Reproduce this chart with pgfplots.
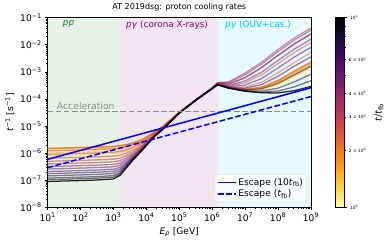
\documentclass[border=0pt]{standalone}
\usepackage{fontspec}
\setmainfont{DejaVu Sans}
\usepackage{pgfplots}
\usepackage{pgfplotstable}
\pgfplotsset{compat=1.18}
\pgfplotsset{colormap={infr}{rgb255=(252,255,164) rgb255=(246,215,70) rgb255=(252,165,10) rgb255=(243,120,25) rgb255=(221,81,58) rgb255=(188,55,84) rgb255=(147,38,103) rgb255=(106,23,110) rgb255=(66,10,104) rgb255=(22,11,57) rgb255=(0,0,4)}}
\definecolor{ppgreen}{RGB}{230,242,230}
\definecolor{pgpurple}{RGB}{242,230,242}
\definecolor{oucyan}{RGB}{230,249,255}
\definecolor{dsblue}{RGB}{0,191,255}
\definecolor{mplpurple}{RGB}{128,0,128}
\definecolor{mplgreen}{RGB}{0,128,0}
\definecolor{accgray}{RGB}{140,140,140}
\newcommand{\tp}[1]{10\textsuperscript{#1}}
\newcommand{\fs}[1]{\fontsize{#1}{#1}\selectfont}

\pgfplotstableread{
E c0 c1 c2 c3 c4 c5 c6 c7 c8 c9 c10 c11 c12 c13 c14 c15 c16 c17 c18 c19
1e1 4.3e-7 6.0e-7 8.0e-7 1.0e-6 1.25e-6 1.45e-6 1.5e-6 1.2e-6 9.0e-7 6.5e-7 5.0e-7 4.0e-7 3.2e-7 2.6e-7 2.1e-7 1.75e-7 1.45e-7 1.2e-7 1.05e-7 9.0e-8
3.162e1 4.47e-7 6.24e-7 8.32e-7 1.04e-6 1.30e-6 1.51e-6 1.56e-6 1.25e-6 9.36e-7 6.76e-7 5.2e-7 4.16e-7 3.33e-7 2.70e-7 2.18e-7 1.82e-7 1.51e-7 1.25e-7 1.09e-7 9.36e-8
1e2 4.64e-7 6.48e-7 8.64e-7 1.08e-6 1.35e-6 1.57e-6 1.62e-6 1.30e-6 9.72e-7 7.02e-7 5.4e-7 4.32e-7 3.46e-7 2.81e-7 2.27e-7 1.89e-7 1.57e-7 1.30e-7 1.13e-7 9.72e-8
3.162e2 4.86e-7 6.78e-7 9.04e-7 1.13e-6 1.41e-6 1.64e-6 1.70e-6 1.36e-6 1.02e-6 7.35e-7 5.65e-7 4.52e-7 3.62e-7 2.94e-7 2.37e-7 1.98e-7 1.64e-7 1.36e-7 1.19e-7 1.02e-7
1e3 5.17e-7 7.19e-7 9.57e-7 1.195e-6 1.49e-6 1.73e-6 1.79e-6 1.43e-6 1.08e-6 7.79e-7 6.0e-7 4.81e-7 3.86e-7 3.14e-7 2.55e-7 2.13e-7 1.78e-7 1.48e-7 1.30e-7 1.12e-7
1.585e3 5.69e-7 7.78e-7 1.024e-6 1.27e-6 1.58e-6 1.82e-6 1.89e-6 1.52e-6 1.15e-6 8.40e-7 6.55e-7 5.32e-7 4.34e-7 3.60e-7 2.98e-7 2.55e-7 2.18e-7 1.88e-7 1.69e-7 1.51e-7
2.512e3 7.26e-7 9.42e-7 1.20e-6 1.45e-6 1.77e-6 2.02e-6 2.09e-6 1.70e-6 1.32e-6 1.01e-6 8.15e-7 6.88e-7 5.86e-7 5.10e-7 4.47e-7 4.02e-7 3.64e-7 3.32e-7 3.13e-7 2.94e-7
3.981e3 1.01e-6 1.24e-6 1.50e-6 1.76e-6 2.09e-6 2.35e-6 2.42e-6 2.02e-6 1.63e-6 1.30e-6 1.11e-6 9.74e-7 8.69e-7 7.91e-7 7.25e-7 6.79e-7 6.40e-7 6.07e-7 5.88e-7 5.68e-7
6.310e3 1.48e-6 1.71e-6 1.98e-6 2.25e-6 2.59e-6 2.86e-6 2.93e-6 2.52e-6 2.12e-6 1.78e-6 1.58e-6 1.44e-6 1.33e-6 1.25e-6 1.18e-6 1.14e-6 1.10e-6 1.06e-6 1.04e-6 1.02e-6
1e4 2.40e-6 2.64e-6 2.92e-6 3.20e-6 3.55e-6 3.83e-6 3.90e-6 3.48e-6 3.06e-6 2.71e-6 2.50e-6 2.36e-6 2.25e-6 2.16e-6 2.09e-6 2.05e-6 2.00e-6 1.97e-6 1.95e-6 1.93e-6
1.778e4 4.62e-6 4.87e-6 5.16e-6 5.45e-6 5.81e-6 6.10e-6 6.18e-6 5.74e-6 5.31e-6 4.94e-6 4.73e-6 4.58e-6 4.46e-6 4.38e-6 4.30e-6 4.25e-6 4.21e-6 4.17e-6 4.15e-6 4.13e-6
3.162e4 8.15e-6 8.40e-6 8.70e-6 9.00e-6 9.38e-6 9.68e-6 9.75e-6 9.30e-6 8.85e-6 8.48e-6 8.25e-6 8.10e-6 7.98e-6 7.89e-6 7.82e-6 7.76e-6 7.72e-6 7.68e-6 7.66e-6 7.64e-6
1e5 3.07e-5 3.10e-5 3.13e-5 3.16e-5 3.20e-5 3.23e-5 3.24e-5 3.19e-5 3.14e-5 3.10e-5 3.08e-5 3.06e-5 3.05e-5 3.04e-5 3.03e-5 3.03e-5 3.02e-5 3.02e-5 3.02e-5 3.01e-5
3.162e5 9.07e-5 9.10e-5 9.14e-5 9.17e-5 9.21e-5 9.25e-5 9.26e-5 9.20e-5 9.15e-5 9.11e-5 9.09e-5 9.07e-5 9.05e-5 9.04e-5 9.04e-5 9.03e-5 9.02e-5 9.02e-5 9.02e-5 9.02e-5
1e6 2.41e-4 2.42e-4 2.42e-4 2.43e-4 2.43e-4 2.44e-4 2.44e-4 2.45e-4 2.48e-4 2.54e-4 2.62e-4 2.58e-4 2.53e-4 2.49e-4 2.44e-4 2.42e-4 2.41e-4 2.41e-4 2.40e-4 2.40e-4
1.45e6 3.42e-4 3.43e-4 3.43e-4 3.44e-4 3.45e-4 3.46e-4 3.46e-4 3.50e-4 3.59e-4 3.78e-4 4.04e-4 3.93e-4 3.78e-4 3.64e-4 3.52e-4 3.45e-4 3.42e-4 3.41e-4 3.41e-4 3.40e-4
3.162e6 2.54e-4 2.55e-4 2.56e-4 2.57e-4 2.58e-4 2.59e-4 2.60e-4 2.72e-4 3.02e-4 3.58e-4 4.31e-4 4.01e-4 3.58e-4 3.19e-4 2.84e-4 2.65e-4 2.56e-4 2.53e-4 2.52e-4 2.51e-4
1e7 2.07e-4 2.10e-4 2.14e-4 2.17e-4 2.21e-4 2.24e-4 2.27e-4 2.75e-4 3.94e-4 6.15e-4 9.04e-4 7.85e-4 6.15e-4 4.62e-4 3.26e-4 2.50e-4 2.16e-4 2.02e-4 1.96e-4 1.93e-4
3.162e7 2.11e-4 2.21e-4 2.31e-4 2.42e-4 2.52e-4 2.62e-4 2.72e-4 4.15e-4 7.72e-4 1.44e-3 2.30e-3 1.95e-3 1.44e-3 9.76e-4 5.68e-4 3.39e-4 2.37e-4 1.96e-4 1.78e-4 1.69e-4
1e8 2.97e-4 3.28e-4 3.60e-4 3.91e-4 4.23e-4 4.54e-4 4.85e-4 9.25e-4 2.02e-3 4.07e-3 6.73e-3 5.64e-3 4.07e-3 2.65e-3 1.40e-3 6.90e-4 3.76e-4 2.50e-4 1.95e-4 1.67e-4
3.162e8 5.60e-4 6.46e-4 7.32e-4 8.18e-4 9.04e-4 9.90e-4 1.08e-3 2.28e-3 5.29e-3 1.09e-2 1.82e-2 1.52e-2 1.09e-2 7.01e-3 3.57e-3 1.64e-3 7.75e-4 4.31e-4 2.81e-4 2.03e-4
1e9 1.12e-3 1.32e-3 1.52e-3 1.72e-3 1.92e-3 2.12e-3 2.32e-3 5.12e-3 1.21e-2 2.51e-2 4.21e-2 3.51e-2 2.51e-2 1.61e-2 8.12e-3 3.62e-3 1.62e-3 8.2e-4 4.7e-4 2.9e-4
}\data

\begin{document}
\begin{tikzpicture}
\useasboundingbox (-56.4pt,-42.3pt) rectangle (404.6pt,245.7pt);
\begin{axis}[
  at={(0,0)}, anchor=south west,
  scale only axis, width=312.1pt, height=224.7pt,
  xmode=log, ymode=log, xmin=1e1, xmax=1e9, ymin=1e-8, ymax=1e-1,
  xtick={1e1,1e2,1e3,1e4,1e5,1e6,1e7,1e8,1e9},
  xticklabels={\tp{1},\tp{2},\tp{3},\tp{4},\tp{5},\tp{6},\tp{7},\tp{8},\tp{9}},
  ytick={1e-8,1e-7,1e-6,1e-5,1e-4,1e-3,1e-2,1e-1},
  yticklabels={\tp{−8},\tp{−7},\tp{−6},\tp{−5},\tp{−4},\tp{−3},\tp{−2},\tp{−1}},
  minor xtick={2e1,3e1,4e1,5e1,6e1,7e1,8e1,9e1,2e2,3e2,4e2,5e2,6e2,7e2,8e2,9e2,2e3,3e3,4e3,5e3,6e3,7e3,8e3,9e3,2e4,3e4,4e4,5e4,6e4,7e4,8e4,9e4,2e5,3e5,4e5,5e5,6e5,7e5,8e5,9e5,2e6,3e6,4e6,5e6,6e6,7e6,8e6,9e6,2e7,3e7,4e7,5e7,6e7,7e7,8e7,9e7,2e8,3e8,4e8,5e8,6e8,7e8,8e8,9e8},
  minor ytick={2e-8,3e-8,4e-8,5e-8,6e-8,7e-8,8e-8,9e-8,2e-7,3e-7,4e-7,5e-7,6e-7,7e-7,8e-7,9e-7,2e-6,3e-6,4e-6,5e-6,6e-6,7e-6,8e-6,9e-6,2e-5,3e-5,4e-5,5e-5,6e-5,7e-5,8e-5,9e-5,2e-4,3e-4,4e-4,5e-4,6e-4,7e-4,8e-4,9e-4,2e-3,3e-3,4e-3,5e-3,6e-3,7e-3,8e-3,9e-3,2e-2,3e-2,4e-2,5e-2,6e-2,7e-2,8e-2,9e-2},
  tick align=outside, tick pos=left,
  major tick length=3.5pt, minor tick length=2pt,
  every major tick/.append style={black, line width=0.8pt},
  every minor tick/.append style={black, line width=0.6pt},
  axis line style={line width=0.8pt},
  tick label style={font=\fs{10.8}},
  xlabel={\textit{E}\textsubscript{\textit{p}} [GeV]},
  ylabel={\textit{t}\textsuperscript{−1} [s\textsuperscript{−1}]},
  label style={font=\fs{10.8}},
  title={AT 2019dsg: proton cooling rates},
  title style={font=\fs{9.5}, at={(0.5,1)}, anchor=south, yshift=1.5pt, inner sep=0pt},
  colormap name=infr, colorbar, point meta min=0, point meta max=1,
  colorbar style={
    at={(parent axis.north east)}, anchor=north west, xshift=20.2pt,
    scale only axis, width=10.7pt, height=224.7pt,
    ytick={0,1}, yticklabels={\tp{0},\tp{1}},
    extra y ticks={0.30103,0.47712,0.60206,0.77815},
    extra y tick labels={2 × \tp{0},3 × \tp{0},4 × \tp{0},6 × \tp{0}},
    extra y tick style={major tick length=2pt},
    minor ytick={0.69897,0.84510,0.90309,0.95424},
    tick align=outside, ytick pos=right, yticklabel pos=right,
    major tick length=3.5pt, minor tick length=2pt,
    yticklabel style={font=\fs{5.2}},
    ylabel={\textit{t}/\textit{t}\textsubscript{fb}},
    ylabel style={font=\fs{11}},
    axis line style={line width=0.8pt},
  },
  legend style={at={(0.985,0.028)}, anchor=south east, draw=black!20, fill=white, fill opacity=0.8, text opacity=1, rounded corners=2pt, font=\fs{10.8}, inner sep=2.5pt},
  legend cell align=left,
  legend image code/.code={\draw[#1] (0cm,0cm) -- (0.75cm,0cm);},
]
\addplot[draw=none, fill=ppgreen, forget plot] coordinates {(1e1,1e-8) (1.5e3,1e-8) (1.5e3,1e-1) (1e1,1e-1)} -- cycle;
\addplot[draw=none, fill=pgpurple, forget plot] coordinates {(1.5e3,1e-8) (1.45e6,1e-8) (1.45e6,1e-1) (1.5e3,1e-1)} -- cycle;
\addplot[draw=none, fill=oucyan, forget plot] coordinates {(1.45e6,1e-8) (1e9,1e-8) (1e9,1e-1) (1.45e6,1e-1)} -- cycle;

\addplot[color of colormap={0 of infr}, line width=1.5pt, opacity=0.55, forget plot] table[x=E,y=c0]{\data};
\addplot[color of colormap={53 of infr}, line width=1.5pt, opacity=0.55, forget plot] table[x=E,y=c1]{\data};
\addplot[color of colormap={105 of infr}, line width=1.5pt, opacity=0.55, forget plot] table[x=E,y=c2]{\data};
\addplot[color of colormap={158 of infr}, line width=1.5pt, opacity=0.55, forget plot] table[x=E,y=c3]{\data};
\addplot[color of colormap={211 of infr}, line width=1.5pt, opacity=0.55, forget plot] table[x=E,y=c4]{\data};
\addplot[color of colormap={263 of infr}, line width=1.5pt, opacity=0.55, forget plot] table[x=E,y=c5]{\data};
\addplot[color of colormap={316 of infr}, line width=1.5pt, opacity=0.9, forget plot] table[x=E,y=c6]{\data};
\addplot[color of colormap={368 of infr}, line width=1.5pt, opacity=0.55, forget plot] table[x=E,y=c7]{\data};
\addplot[color of colormap={421 of infr}, line width=1.5pt, opacity=0.55, forget plot] table[x=E,y=c8]{\data};
\addplot[color of colormap={474 of infr}, line width=1.5pt, opacity=0.55, forget plot] table[x=E,y=c9]{\data};
\addplot[color of colormap={526 of infr}, line width=1.5pt, opacity=0.55, forget plot] table[x=E,y=c10]{\data};
\addplot[color of colormap={579 of infr}, line width=1.5pt, opacity=0.55, forget plot] table[x=E,y=c11]{\data};
\addplot[color of colormap={632 of infr}, line width=1.5pt, opacity=0.55, forget plot] table[x=E,y=c12]{\data};
\addplot[color of colormap={684 of infr}, line width=1.5pt, opacity=0.55, forget plot] table[x=E,y=c13]{\data};
\addplot[color of colormap={737 of infr}, line width=1.5pt, opacity=0.55, forget plot] table[x=E,y=c14]{\data};
\addplot[color of colormap={789 of infr}, line width=1.5pt, opacity=0.55, forget plot] table[x=E,y=c15]{\data};
\addplot[color of colormap={842 of infr}, line width=1.5pt, opacity=0.55, forget plot] table[x=E,y=c16]{\data};
\addplot[color of colormap={895 of infr}, line width=1.5pt, opacity=0.55, forget plot] table[x=E,y=c17]{\data};
\addplot[color of colormap={947 of infr}, line width=1.5pt, opacity=0.55, forget plot] table[x=E,y=c18]{\data};
\addplot[color of colormap={1000 of infr}, line width=1.5pt, opacity=0.85, forget plot] table[x=E,y=c19]{\data};

\addplot[accgray, line width=1.8pt, dash pattern=on 6.7pt off 2.9pt, forget plot] coordinates {(1e1,3.4e-5) (1e9,3.4e-5)};

\addplot[blue, line width=1.8pt] coordinates {(1e1,5.9e-7) (1e9,2.6e-4)};
\addlegendentry{Escape (10\textit{t}\textsubscript{fb})}
\addplot[blue, line width=1.8pt, dash pattern=on 6.7pt off 2.9pt] coordinates {(1e1,2.9e-7) (1e9,1.23e-4)};
\addlegendentry{Escape (\textit{t}\textsubscript{fb})}

\node[anchor=south west, inner sep=0pt, yshift=2pt, text=accgray, font=\fs{11}] at (axis cs:19,3.4e-5) {Acceleration};
\node[anchor=north west, inner sep=0pt, yshift=-3.3pt, text=mplgreen, font=\fs{10.5}] at (axis cs:28.8,1e-1) {\textit{pp}};
\node[anchor=north west, inner sep=0pt, yshift=-3.3pt, text=mplpurple, font=\fs{10.5}] at (axis cs:2.4e3,1e-1) {\textit{pγ} (corona X-rays)};
\node[anchor=north west, inner sep=0pt, yshift=-3.3pt, text=dsblue, font=\fs{10.5}] at (axis cs:2.45e6,1e-1) {\textit{pγ} (OUV+cas.)};
\end{axis}
\end{tikzpicture}
\end{document}
